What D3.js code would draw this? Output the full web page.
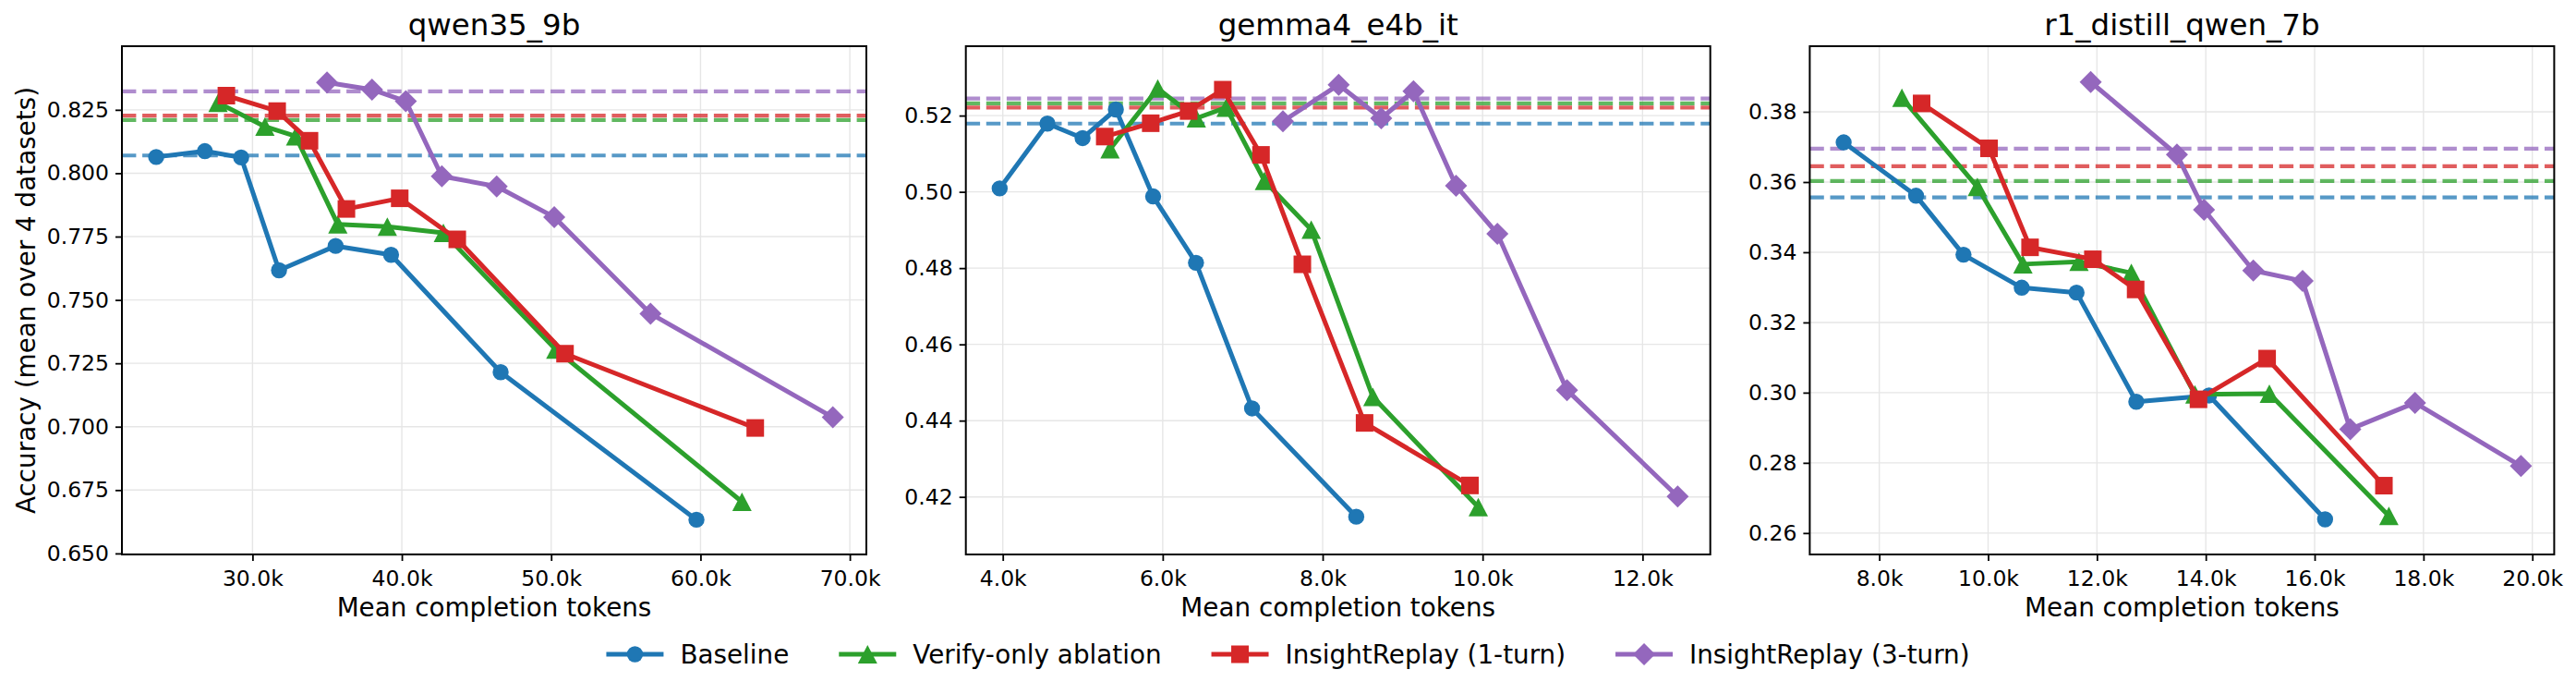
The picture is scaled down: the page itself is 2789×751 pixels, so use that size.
<!DOCTYPE html>
<html>
<head>
<meta charset="utf-8">
<script src="https://cdn.jsdelivr.net/npm/d3@7"></script>
<style>
  body { margin: 0; background: #fff; }
  text { font-family: "DejaVu Sans", sans-serif; fill: #000; }
</style>
</head>
<body>
<div id="wrapper"></div>
<script>
const seriesNames = ["Baseline", "Verify-only ablation", "InsightReplay (1-turn)", "InsightReplay (3-turn)"]
const seriesColors = ["#1f77b4", "#2ca02c", "#d62728", "#9467bd"]
const seriesMarkers = ["circle", "triangle", "square", "diamond"]
const panelTitles = ["qwen35_9b", "gemma4_e4b_it", "r1_distill_qwen_7b"]

// [mean completion tokens, accuracy]
const qwenBaseline = [[23550, 0.8064], [26810, 0.8087], [29240, 0.8062], [31775, 0.7617], [35566, 0.7713], [39277, 0.7678], [46617, 0.7215], [59728, 0.6633]]
const qwenVerify = [[27693, 0.8278], [30829, 0.8184], [32888, 0.8146], [35714, 0.7798], [39029, 0.7789], [42783, 0.7765], [50309, 0.7304], [62777, 0.6704]]
const qwenReplay1 = [[28250, 0.8306], [31651, 0.8245], [33816, 0.8128], [36289, 0.7859], [39858, 0.7901], [43711, 0.7739], [50927, 0.7288], [63667, 0.6995]]
const qwenReplay3 = [[34991, 0.8358], [38002, 0.8330], [40266, 0.8284], [42678, 0.7988], [46351, 0.7948], [50204, 0.7827], [56654, 0.7446], [68862, 0.7037]]
const qwenRefLines = [0.8070, 0.8210, 0.8227, 0.8323]

const gemmaBaseline = [[3961, 0.5009], [4558, 0.5179], [4998, 0.5141], [5414, 0.5216], [5880, 0.4988], [6416, 0.4814], [7117, 0.4432], [8420, 0.4148]]
const gemmaVerify = [[5341, 0.5112], [5938, 0.5271], [6420, 0.5193], [6793, 0.5221], [7272, 0.5029], [7857, 0.4901], [8628, 0.4462], [9946, 0.4173]]
const gemmaReplay1 = [[5275, 0.5145], [5850, 0.5180], [6324, 0.5212], [6751, 0.5268], [7229, 0.5097], [7746, 0.4810], [8524, 0.4394], [9842, 0.4230]]
const gemmaReplay3 = [[7503, 0.5185], [8200, 0.5281], [8732, 0.5193], [9136, 0.5264], [9668, 0.5016], [10185, 0.4890], [11055, 0.4480], [12439, 0.4201]]
const gemmaRefLines = [0.5179, 0.5232, 0.5221, 0.5245]

const r1Baseline = [[7346, 0.3713], [8676, 0.3561], [9548, 0.3393], [10618, 0.3299], [11625, 0.3285], [12723, 0.2974], [14060, 0.2992], [16192, 0.2639]]
const r1Verify = [[8416, 0.3840], [9803, 0.3586], [10640, 0.3366], [11670, 0.3373], [12632, 0.3341], [13800, 0.2995], [15168, 0.2997], [17364, 0.2649]]
const r1Replay1 = [[8778, 0.3824], [10017, 0.3696], [10771, 0.3414], [11925, 0.3380], [12711, 0.3294], [13866, 0.2981], [15127, 0.3097], [17273, 0.2735]]
const r1Replay3 = [[11885, 0.3885], [13470, 0.3678], [13967, 0.3521], [14873, 0.3348], [15779, 0.3318], [16655, 0.2896], [17844, 0.2971], [19791, 0.2791]]
const r1RefLines = [0.3556, 0.3603, 0.3645, 0.3695]

const qwenXTicks = [30000, 40000, 50000, 60000, 70000]
const qwenYTicks = [0.650, 0.675, 0.700, 0.725, 0.750, 0.775, 0.800, 0.825]
const gemmaXTicks = [4000, 6000, 8000, 10000, 12000]
const gemmaYTicks = [0.42, 0.44, 0.46, 0.48, 0.50, 0.52]
const r1XTicks = [8000, 10000, 12000, 14000, 16000, 18000, 20000]
const r1YTicks = [0.26, 0.28, 0.30, 0.32, 0.34, 0.36, 0.38]

const qwenXDomain = [21255, 71107], qwenYDomain = [0.6496, 0.8501]
const gemmaXDomain = [3538, 12847], gemmaYDomain = [0.4049, 0.5382]
const r1XDomain = [6723, 20402], r1YDomain = [0.2539, 0.3987]

const panels = [
  { title: panelTitles[0], series: [qwenBaseline, qwenVerify, qwenReplay1, qwenReplay3], refs: qwenRefLines,
    xTicks: qwenXTicks, yTicks: qwenYTicks, xDomain: qwenXDomain, yDomain: qwenYDomain, yDigits: 3 },
  { title: panelTitles[1], series: [gemmaBaseline, gemmaVerify, gemmaReplay1, gemmaReplay3], refs: gemmaRefLines,
    xTicks: gemmaXTicks, yTicks: gemmaYTicks, xDomain: gemmaXDomain, yDomain: gemmaYDomain, yDigits: 2 },
  { title: panelTitles[2], series: [r1Baseline, r1Verify, r1Replay1, r1Replay3], refs: r1RefLines,
    xTicks: r1XTicks, yTicks: r1YTicks, xDomain: r1XDomain, yDomain: r1YDomain, yDigits: 2 }
]

const dimensions = {
  width: 2789,
  height: 751,
  panelLeft: 132,
  panelStep: 913.7,
  panelWidth: 806,
  top: 50,
  bottom: 600
}

const tickFont = 23.5
const labelFont = 27.8

const markerPath = (type, cx, cy) => {
  if (type === "triangle") {
    const w = 10.5, h = 10
    return `M${cx},${cy - h}L${cx + w},${cy + h}L${cx - w},${cy + h}Z`
  }
  if (type === "diamond") {
    const r = 12
    return `M${cx},${cy - r}L${cx + r},${cy}L${cx},${cy + r}L${cx - r},${cy}Z`
  }
  if (type === "square") {
    const s = 9.5
    return `M${cx - s},${cy - s}H${cx + s}V${cy + s}H${cx - s}Z`
  }
  const r = 8.7
  return `M${cx - r},${cy}A${r},${r} 0 1,0 ${cx + r},${cy}A${r},${r} 0 1,0 ${cx - r},${cy}Z`
}

const svg = d3.select("#wrapper")
  .append("svg")
  .attr("width", dimensions.width)
  .attr("height", dimensions.height)

panels.forEach((panel, i) => {
  const left = dimensions.panelLeft + i * dimensions.panelStep
  const innerH = dimensions.bottom - dimensions.top
  const g = svg.append("g").attr("transform", `translate(${left},${dimensions.top})`)

  const xScale = d3.scaleLinear().domain(panel.xDomain).range([0, dimensions.panelWidth])
  const yScale = d3.scaleLinear().domain(panel.yDomain).range([innerH, 0])

  // grid
  g.append("g").selectAll("line").data(panel.xTicks).join("line")
    .attr("x1", d => xScale(d)).attr("x2", d => xScale(d))
    .attr("y1", 0).attr("y2", innerH)
    .attr("stroke", "#e6e6e6").attr("stroke-width", 1.4)
  g.append("g").selectAll("line").data(panel.yTicks).join("line")
    .attr("x1", 0).attr("x2", dimensions.panelWidth)
    .attr("y1", d => yScale(d)).attr("y2", d => yScale(d))
    .attr("stroke", "#e6e6e6").attr("stroke-width", 1.4)

  // reference dashed lines
  panel.refs.forEach((v, k) => {
    g.append("line")
      .attr("x1", 0).attr("x2", dimensions.panelWidth)
      .attr("y1", yScale(v)).attr("y2", yScale(v))
      .attr("stroke", seriesColors[k])
      .attr("stroke-opacity", 0.75)
      .attr("stroke-width", 4.2)
      .attr("stroke-dasharray", "15.4,6.7")
  })

  const line = d3.line().x(d => xScale(d[0])).y(d => yScale(d[1]))

  panel.series.forEach((data, k) => {
    g.append("path")
      .attr("d", line(data))
      .attr("fill", "none")
      .attr("stroke", seriesColors[k])
      .attr("stroke-width", 5)
      .attr("stroke-linejoin", "round")
    g.append("g").selectAll("path").data(data).join("path")
      .attr("d", d => markerPath(seriesMarkers[k], xScale(d[0]), yScale(d[1])))
      .attr("fill", seriesColors[k])
  })

  // axes
  const xAxis = g.append("g")
    .attr("transform", `translate(0,${innerH})`)
    .call(d3.axisBottom(xScale).tickValues(panel.xTicks).tickSize(7).tickPadding(10)
      .tickFormat(d => (d / 1000).toFixed(1) + "k"))
  const yAxis = g.append("g")
    .call(d3.axisLeft(yScale).tickValues(panel.yTicks).tickSize(7).tickPadding(7)
      .tickFormat(d => d.toFixed(panel.yDigits)))
  ;[xAxis, yAxis].forEach(ax => {
    ax.select(".domain").remove()
    ax.selectAll(".tick line").attr("stroke", "#000").attr("stroke-width", 1.8)
    ax.selectAll(".tick text").attr("font-size", tickFont).attr("font-family", "DejaVu Sans").attr("fill", "#000")
  })

  g.append("rect")
    .attr("width", dimensions.panelWidth).attr("height", innerH)
    .attr("fill", "none").attr("stroke", "#000").attr("stroke-width", 2)

  g.append("text")
    .attr("x", dimensions.panelWidth / 2).attr("y", -11.7)
    .attr("text-anchor", "middle")
    .attr("font-size", 32.5)
    .text(panel.title)

  g.append("text")
    .attr("x", dimensions.panelWidth / 2).attr("y", innerH + 67)
    .attr("text-anchor", "middle")
    .attr("font-size", labelFont)
    .text("Mean completion tokens")

  if (i === 0) {
    g.append("text")
      .attr("transform", `translate(${-94},${innerH / 2}) rotate(-90)`)
      .attr("text-anchor", "middle")
      .attr("font-size", labelFont)
      .text("Accuracy (mean over 4 datasets)")
  }
})

// legend across the bottom
const legend = svg.append("g")
const handleLen = 62, textPad = 18, colGap = 54, legendY = 708
const items = seriesNames.map((name, k) => {
  const it = legend.append("g")
  it.append("line").attr("x1", 0).attr("x2", handleLen).attr("y1", 0).attr("y2", 0)
    .attr("stroke", seriesColors[k]).attr("stroke-width", 5)
  it.append("path").attr("d", markerPath(seriesMarkers[k], handleLen / 2, 0)).attr("fill", seriesColors[k])
  const t = it.append("text").attr("x", handleLen + textPad).attr("y", 10)
    .attr("font-size", labelFont).text(name)
  return { it, w: handleLen + textPad + t.node().getComputedTextLength() }
})
const totalW = d3.sum(items, d => d.w) + colGap * (items.length - 1)
let cursor = dimensions.width / 2 - totalW / 2
items.forEach(d => {
  d.it.attr("transform", `translate(${cursor},${legendY})`)
  cursor += d.w + colGap
})
</script>
</body>
</html>
